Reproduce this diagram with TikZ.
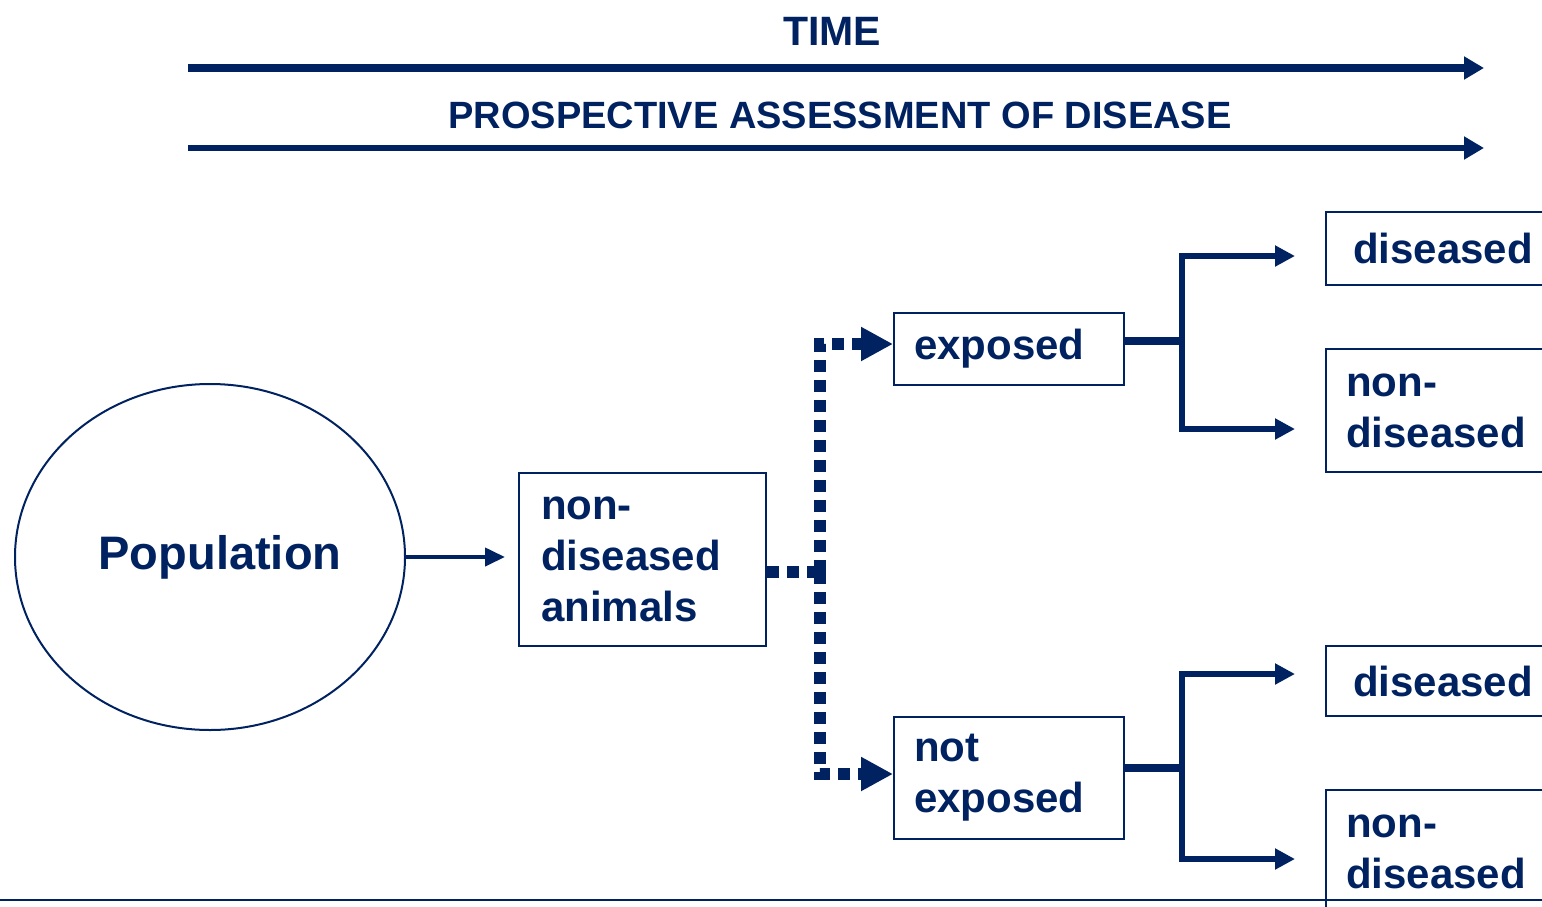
\documentclass[tikz,border=0pt]{standalone}
\usepackage{fontspec}
\setmainfont{Liberation Sans}
\usetikzlibrary{arrows.meta,shapes.geometric}
\definecolor{navy}{RGB}{0,34,96}

\begin{document}
\begin{tikzpicture}[x=0.5pt,y=-0.5pt,
  every node/.style={text=navy},
  box/.style={draw=navy, line width=1pt, anchor=north west, align=left, inner xsep=10pt, inner ysep=2pt,
    font=\fontsize{21}{25.5}\selectfont\bfseries},
  timeline/.style={navy, line width=#1, -{Triangle[length=10pt,width=11pt]}},
  dotconn/.style={navy, line width=6pt, dash pattern=on 6pt off 4pt},
  stub/.style={navy, line width=4pt},
  branch/.style={navy, line width=3.2pt, -{Triangle[length=10pt,width=10pt]}, shorten >=15pt}]
\clip (0,0) rectangle (1542,906);
% time axis
\coordinate (t0) at (188,68);  \coordinate (t1) at (1484,68);
\coordinate (p0) at (188,148); \coordinate (p1) at (1484,148);
\node[font=\fontsize{20.5}{24}\selectfont\bfseries] (timelbl) at (832,31) {TIME};
\draw[timeline=4pt] (t0) -- (t1);
\node[font=\fontsize{19}{23}\selectfont\bfseries] (prosp) at (840,115) {PROSPECTIVE ASSESSMENT OF DISEASE};
\draw[timeline=3pt] (p0) -- (p1);
% population and cohort
\node[draw=navy, line width=1pt, ellipse, inner sep=0pt, minimum width=195pt, minimum height=173pt,
  font=\fontsize{23.5}{28}\selectfont\bfseries] (pop) at (210,557) {\hspace{10pt}Population};
\node[box, minimum width=123.5pt, minimum height=86.5pt, text width=101.5pt, inner xsep=11pt] (animals) at (518,472) {non-\\diseased\\animals};
\draw[navy, line width=2pt, -{Triangle[length=10pt,width=9pt]}, shorten >=6.5pt] (pop.east) -- (pop.east -| animals.west);
% exposure groups
\node[box, minimum width=115pt, minimum height=36pt, text width=95pt] (exposed) at (893,312) {\raisebox{-2pt}{exposed}};
\node[box, minimum width=115pt, minimum height=61pt, text width=95pt] (notexp) at (893,716) {not\\exposed};
\coordinate (split) at (820,572);
\draw[dotconn] (animals.east |- split) -- (split);
\draw[dotconn, -{Triangle[length=16pt,width=16pt]}] (split) |- ([yshift=2.5pt]exposed.west);
\draw[dotconn, -{Triangle[length=16pt,width=16pt]}] (split) |- ([yshift=2pt]notexp.west);
% outcomes
\node[box, minimum width=150pt, minimum height=36.5pt, text width=123pt, inner xsep=13.5pt] (dis1) at (1325,211) {diseased};
\node[box, minimum width=150pt, minimum height=61.5pt, text width=130pt] (non1) at (1325,348) {non-\\diseased};
\node[box, minimum width=150pt, minimum height=35pt, text width=123pt, inner xsep=13.5pt] (dis2) at (1325,645) {diseased};
\node[box, minimum width=150pt, minimum height=61.5pt, text width=130pt] (non2) at (1325,789) {non-\\diseased};
\coordinate (fork1) at (1182,341);
\coordinate (fork2) at (1182,768);
\draw[stub] (exposed.east |- fork1) -- (fork1);
\draw[branch] (fork1) |- ([yshift=-3.75pt]dis1.west);
\draw[branch] (fork1) |- ([yshift=-9.25pt]non1.west);
\draw[stub] (notexp.east |- fork2) -- (fork2);
\draw[branch] (fork2) |- ([yshift=3.5pt]dis2.west);
\draw[branch] (fork2) |- ([yshift=-3.75pt]non2.west);
% bottom rule
\coordinate (b0) at (0,900); \coordinate (b1) at (1542,900);
\draw[navy, line width=1pt] (b0) -- (b1);
\end{tikzpicture}
\end{document}
